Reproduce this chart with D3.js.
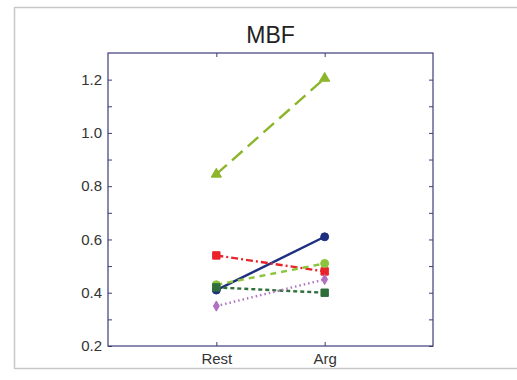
<!DOCTYPE html>
<html><head><meta charset="utf-8">
<script src="https://cdn.jsdelivr.net/npm/d3@7"></script>
<style>body{margin:0;background:#fff}svg{display:block}text{font-family:Arial,"Liberation Sans",sans-serif}</style>
</head><body><svg id="c" width="517" height="380"></svg>
<script>
const categories = ["Rest", "Arg"];
const seriesNames = ["s1", "s2", "s3", "s4", "s5", "s6"];
const seriesValues = [
  [0.845, 1.205],
  [0.41, 0.61],
  [0.54, 0.48],
  [0.43, 0.51],
  [0.42, 0.40],
  [0.35, 0.45]
];
const seriesColors = ["#8db52a", "#1f2f80", "#e8242a", "#8cc43c", "#2f6f3a", "#b072c0"];
const seriesDash = ["14,7", "", "7,3,2,3", "6,5", "4,3", "1.5,3"];
const seriesMarkers = ["triangle", "circle", "square", "circle", "square", "diamond"];
const yTicks = [0.2, 0.4, 0.6, 0.8, 1.0, 1.2];
const yMinor = [0.3, 0.5, 0.7, 0.9, 1.1];

const svg = d3.select("#c");
const L = 108, R = 433, T = 53, B = 346;
const x = d3.scaleLinear().domain([0, 3]).range([L, R]);
const y = d3.scaleLinear().domain([0.2, 1.3]).range([B, T]);

svg.append("rect").attr("x", 14.5).attr("y", 7.5).attr("width", 510).attr("height", 361)
  .attr("fill", "#fff").attr("stroke", "#c8c8c8").attr("stroke-width", 1.5);

svg.append("text").attr("x", (L + R) / 2).attr("y", 43).attr("text-anchor", "middle")
  .attr("font-size", 23).attr("fill", "#222").text("MBF");

svg.append("rect").attr("x", L).attr("y", T).attr("width", R - L).attr("height", B - T)
  .attr("fill", "none").attr("stroke", "#3c3c78").attr("stroke-width", 1.2);

const axisColor = "#3c3c78";
const yl = svg.append("g").attr("transform", `translate(${L},0)`)
  .call(d3.axisLeft(y).tickValues(yTicks).tickFormat(d3.format(".1f")).tickSize(-4).tickPadding(6));
const yr = svg.append("g").attr("transform", `translate(${R},0)`)
  .call(d3.axisRight(y).tickValues(yTicks.concat(yMinor)).tickFormat("").tickSize(-4));
const ylm = svg.append("g").attr("transform", `translate(${L},0)`)
  .call(d3.axisLeft(y).tickValues(yMinor).tickFormat("").tickSize(-4));
const xb = svg.append("g").attr("transform", `translate(0,${B})`)
  .call(d3.axisBottom(x).tickValues([1, 2]).tickFormat((d) => categories[d - 1]).tickSize(-4).tickPadding(7));
const xt = svg.append("g").attr("transform", `translate(0,${T})`)
  .call(d3.axisTop(x).tickValues([1, 2]).tickFormat("").tickSize(-4));
[yl, yr, ylm, xb, xt].forEach(g => {
  g.select(".domain").remove();
  g.selectAll(".tick line").attr("stroke", axisColor);
  g.selectAll("text").attr("font-size", 15).attr("fill", "#333").attr("font-family", "Arial, 'Liberation Sans', sans-serif");
});

const line = d3.line().x((d, i) => x(i + 1)).y(d => y(d));
const symMap = { triangle: d3.symbolTriangle, circle: d3.symbolCircle, square: d3.symbolSquare, diamond: d3.symbolDiamond };
const symSize = { triangle: 45, circle: 50, square: 55, diamond: 30 };

seriesValues.forEach((vals, si) => {
  svg.append("path").datum(vals).attr("d", line).attr("fill", "none")
    .attr("stroke", seriesColors[si]).attr("stroke-width", 2.4)
    .attr("stroke-dasharray", seriesDash[si] || null);
  const m = seriesMarkers[si];
  svg.selectAll(null).data(vals).enter().append("path")
    .attr("transform", (d, i) => `translate(${x(i + 1)},${y(d)})`)
    .attr("d", d3.symbol().type(symMap[m]).size(symSize[m]))
    .attr("fill", seriesColors[si]).attr("stroke", seriesColors[si]).attr("stroke-width", 1);
});
</script></body></html>
